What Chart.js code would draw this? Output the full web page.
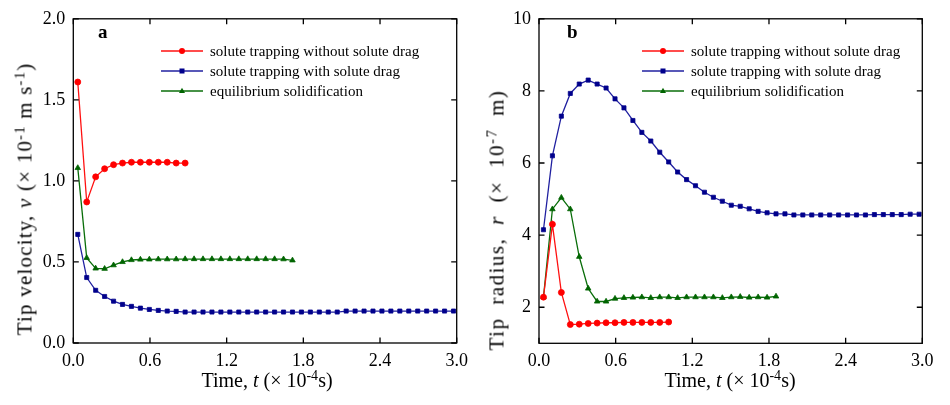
<!DOCTYPE html>
<html>
<head>
<meta charset="utf-8">
<script src="https://cdn.jsdelivr.net/npm/chart.js@4.4.1/dist/chart.umd.min.js"></script>
<style>
html,body{margin:0;padding:0;background:#fff}
#wrap{position:relative;width:950px;height:405px;font-family:"Liberation Serif","Times New Roman",serif;color:#000}
.panel{position:absolute;top:0;width:475px;height:405px}
.t{position:absolute;white-space:nowrap;font-size:20px;line-height:1;transform:translate(-50%,-50%)}
.t.rot{font-size:21px;transform:translate(-50%,-50%) rotate(-90deg)}
.t sup{font-size:0.7em;vertical-align:0.5em;line-height:0}
.tag{position:absolute;font-weight:bold;font-size:19px;line-height:1}
.leg{position:absolute;font-size:15px;line-height:1;white-space:nowrap}
.leg div{position:absolute;left:0;height:16px;display:flex;align-items:center}
.leg svg{margin-right:7px}
</style>
</head>
<body>
<div id="wrap">
  <div class="panel" style="left:0"><canvas id="chartA" width="475" height="405"></canvas></div>
  <div class="panel" style="left:475px"><canvas id="chartB" width="475" height="405"></canvas></div>
  <div class="tag" style="left:98px;top:22px">a</div>
  <div class="tag" style="left:567px;top:22px">b</div>
  <div class="t rot" style="left:25px;top:199px;letter-spacing:1.2px">Tip velocity, <i>v</i> (× 10<sup>-1</sup> m s<sup>-1</sup>)</div>
  <div class="t rot" style="left:497px;top:220px;letter-spacing:1.5px;word-spacing:6px">Tip radius, <i>r</i> (× 10<sup>-7</sup> m)</div>
  <div class="t" style="left:267px;top:380px">Time, <i>t</i> (× 10<sup>-4</sup>s)</div>
  <div class="t" style="left:730px;top:380px">Time, <i>t</i> (× 10<sup>-4</sup>s)</div>
  <div class="leg" id="legA" style="left:161px;top:43px"></div>
  <div class="leg" id="legB" style="left:642px;top:43px"></div>
</div>
<script>
// time of each stored step (x 10^-4 s), shared by every series
const time = [0.035,0.105,0.175,0.245,0.315,0.385,0.455,0.525,0.595,0.665,0.735,0.805,0.875,0.945,1.015,1.085,1.155,1.225,1.295,1.365,1.435,1.505,1.575,1.645,1.715,1.785,1.855,1.925,1.995,2.065,2.135,2.205,2.275,2.345,2.415,2.485,2.555,2.625,2.695,2.765,2.835,2.905,2.975];

// panel a: tip velocity (x 10^-1 m/s)
const vNoDrag = [1.61,0.87,1.025,1.075,1.10,1.11,1.115,1.115,1.115,1.115,1.115,1.11,1.11];
const vDrag = [0.67,0.404,0.325,0.287,0.258,0.238,0.226,0.215,0.207,0.201,0.197,0.195,0.191,0.191,0.191,0.191,0.191,0.191,0.191,0.191,0.191,0.191,0.191,0.191,0.191,0.191,0.191,0.191,0.191,0.191,0.197,0.197,0.197,0.197,0.197,0.197,0.197,0.197,0.197,0.197,0.197,0.197,0.197];
const vEquil = [1.08,0.525,0.46,0.458,0.48,0.50,0.512,0.515,0.516,0.517,0.517,0.517,0.518,0.518,0.518,0.518,0.518,0.518,0.518,0.518,0.518,0.518,0.518,0.517,0.51];

// panel b: tip radius (x 10^-7 m)
const rNoDrag = [2.28,4.30,2.41,1.52,1.53,1.55,1.56,1.57,1.57,1.58,1.58,1.58,1.58,1.58,1.59];
const rDrag = [4.15,6.2,7.3,7.93,8.19,8.30,8.19,8.08,7.78,7.53,7.18,6.85,6.61,6.30,6.03,5.75,5.54,5.37,5.19,5.05,4.94,4.83,4.80,4.73,4.66,4.62,4.59,4.59,4.56,4.56,4.56,4.56,4.56,4.56,4.56,4.56,4.56,4.57,4.57,4.57,4.57,4.58,4.58];
const rEquil = [2.28,4.72,5.04,4.72,3.40,2.52,2.16,2.16,2.24,2.26,2.27,2.28,2.26,2.28,2.28,2.26,2.28,2.28,2.28,2.28,2.26,2.28,2.29,2.27,2.28,2.27,2.30];

const seriesNames = ['solute trapping without solute drag','solute trapping with solute drag','equilibrium solidification'];
const xTicks = [0,0.6,1.2,1.8,2.4,3.0];
const vTicks = [0,0.5,1.0,1.5,2.0];
const rTicks = [2,4,6,8,10];

const FONT = '"Liberation Serif","Times New Roman",serif';
const looks = [
  {line:'#ff1010', fill:'#ff0000', pointStyle:'circle', radius:3},
  {line:'#2020a0', fill:'#00008c', pointStyle:'rect', radius:2.9},
  {line:'#0a6e0a', fill:'#006400', pointStyle:'triangle', radius:3.2}
];
const TICK = 5.5;

const frame = {
  id:'frame',
  afterDraw(c){
    const {ctx, chartArea:a, scales:{x,y}} = c;
    ctx.save(); ctx.strokeStyle='#000'; ctx.lineWidth=1.3;
    ctx.strokeRect(a.left,a.top,a.right-a.left,a.bottom-a.top);
    ctx.beginPath();
    x.ticks.forEach(t=>{const p=x.getPixelForValue(t.value); ctx.moveTo(p,a.bottom); ctx.lineTo(p,a.bottom-TICK); ctx.moveTo(p,a.top); ctx.lineTo(p,a.top+TICK);});
    y.ticks.forEach(t=>{const p=y.getPixelForValue(t.value); ctx.moveTo(a.left,p); ctx.lineTo(a.left+TICK,p); ctx.moveTo(a.right,p); ctx.lineTo(a.right-TICK,p);});
    ctx.stroke(); ctx.restore();
  }
};

function makeSet(i, ys){
  const l = looks[i];
  return {label:seriesNames[i], data:ys.map((v,k)=>({x:time[k], y:v})), borderColor:l.line, borderWidth:1.3,
    backgroundColor:l.fill, pointBackgroundColor:l.fill, pointBorderColor:l.fill, pointBorderWidth:0.8,
    pointStyle:l.pointStyle, pointRadius:l.radius, tension:0, fill:false};
}

function makeChart(id, sets, yMin, yMax, yTicks, yFmt, box){
  return new Chart(document.getElementById(id), {
    type:'line',
    data:{datasets:sets},
    options:{
      responsive:false, animation:false, devicePixelRatio:1,
      layout:{padding:{left:0, right:box.right, top:box.top, bottom:0}},
      plugins:{legend:{display:false}, tooltip:{enabled:false}},
      scales:{
        x:{type:'linear', min:0, max:3,
          afterBuildTicks:s=>{s.ticks = xTicks.map(v=>({value:v}));},
          afterFit:s=>{s.height = box.xh;},
          grid:{display:false, drawTicks:false}, border:{display:false},
          ticks:{autoSkip:false, maxRotation:0, padding:7, color:'#000', font:{family:FONT, size:18}, callback:v=>v.toFixed(1)}},
        y:{type:'linear', min:yMin, max:yMax,
          afterBuildTicks:s=>{s.ticks = yTicks.map(v=>({value:v}));},
          afterFit:s=>{s.width = box.yw;},
          grid:{display:false, drawTicks:false}, border:{display:false},
          ticks:{padding:8, color:'#000', font:{family:FONT, size:18}, callback:yFmt}}
      }
    },
    plugins:[frame]
  });
}

makeChart('chartA', [makeSet(0,vNoDrag), makeSet(1,vDrag), makeSet(2,vEquil)], 0, 2, vTicks, v=>v.toFixed(1),
  {yw:73.3, xh:62, top:14, right:18.3});
makeChart('chartB', [makeSet(0,rNoDrag), makeSet(1,rDrag), makeSet(2,rEquil)], 1, 10, rTicks, v=>String(v),
  {yw:64, xh:61.7, top:13.3, right:27.7});

// legends: short line with the series marker in the middle
function marker(l){
  if(l.pointStyle==='circle') return `<circle cx="21" cy="8" r="3" fill="${l.fill}"/>`;
  if(l.pointStyle==='rect') return `<rect x="18.5" y="5.5" width="5" height="5" fill="${l.fill}"/>`;
  return `<polygon points="21,4.8 24,10 18,10" fill="${l.fill}"/>`;
}
['legA','legB'].forEach(id=>{
  document.getElementById(id).innerHTML = seriesNames.map((n,i)=>`<div style="top:${i*20.2}px"><svg width="42" height="16"><line x1="0" y1="8" x2="42" y2="8" stroke="${looks[i].line}" stroke-width="1.6"/>${marker(looks[i])}</svg><span>${n}</span></div>`).join('');
});
</script>
</body>
</html>
